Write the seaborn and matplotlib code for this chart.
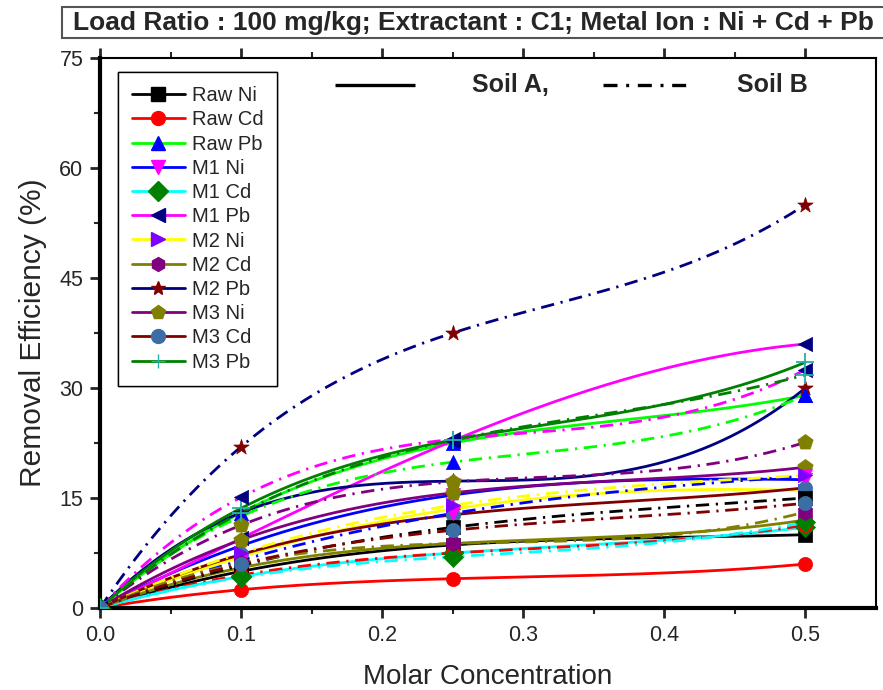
import numpy as np
import pandas as pd
import matplotlib
matplotlib.use("Agg")
import matplotlib.pyplot as plt
import seaborn as sns
from matplotlib.lines import Line2D
from matplotlib.patches import Rectangle

sns.set_style("white")
plt.rcParams['font.family'] = ['Liberation Sans', 'DejaVu Sans']

# ---------------- data ----------------
conc = [0.0, 0.1, 0.25, 0.5]
series_names = ["Raw Ni", "Raw Cd", "Raw Pb", "M1 Ni", "M1 Cd", "M1 Pb",
                "M2 Ni", "M2 Cd", "M2 Pb", "M3 Ni", "M3 Cd", "M3 Pb"]

soil_a = {
    "Raw Ni": [0, 5.0, 8.6, 10.0],
    "Raw Cd": [0, 2.5, 4.0, 6.0],
    "Raw Pb": [0, 13.0, 22.5, 29.0],
    "M1 Ni":  [0, 8.5, 15.4, 17.5],
    "M1 Cd":  [0, 4.3, 7.5, 11.0],
    "M1 Pb":  [0, 9.5, 22.8, 36.0],
    "M2 Ni":  [0, 7.0, 13.5, 16.0],
    "M2 Cd":  [0, 5.5, 8.8, 12.0],
    "M2 Pb":  [0, 13.0, 17.3, 30.0],
    "M3 Ni":  [0, 9.3, 15.7, 19.2],
    "M3 Cd":  [0, 7.3, 12.7, 16.4],
    "M3 Pb":  [0, 13.6, 22.9, 33.5],
}
soil_b = {
    "Raw Ni": [0, 5.8, 11.0, 15.0],
    "Raw Cd": [0, 4.5, 7.5, 11.3],
    "Raw Pb": [0, 12.5, 19.9, 29.0],
    "M1 Ni":  [0, 6.5, 12.9, 18.0],
    "M1 Cd":  [0, 4.2, 7.0, 11.7],
    "M1 Pb":  [0, 15.1, 23.0, 32.5],
    "M2 Ni":  [0, 7.5, 14.0, 18.1],
    "M2 Cd":  [0, 6.1, 8.8, 13.1],
    "M2 Pb":  [0, 22.0, 37.5, 55.0],
    "M3 Ni":  [0, 11.3, 17.2, 22.6],
    "M3 Cd":  [0, 6.0, 10.6, 14.3],
    "M3 Pb":  [0, 13.0, 22.9, 31.8],
}

line_colors = ["#000000", "#ff0000", "#00ff00", "#0000ff", "#00ffff", "#ff00ff",
               "#ffff00", "#808000", "#000080", "#800080", "#800000", "#008000"]
marker_colors = ["#000000", "#ff0000", "#0000ff", "#ff00ff", "#008000", "#000080",
                 "#8000ff", "#800080", "#800000", "#808000", "#3a6ea5", "#20b2aa"]
markers = ["s", "o", "^", "v", "D", "<", ">", "h", "*", "p", "o", "+"]

title = "Load Ratio : 100 mg/kg; Extractant : C1; Metal Ion : Ni + Cd + Pb"
soil_labels = ["Soil A,", "Soil B"]
xticks = [0.0, 0.1, 0.2, 0.3, 0.4, 0.5]
yticks = [0, 15, 30, 45, 60, 75]

# ---------------- figure ----------------
fig = plt.figure(figsize=(8.83, 6.9), dpi=100)
ax = fig.add_axes([0.1133, 0.1188, 0.8787, 0.7972])

dashdot = (0, (4.8, 2.4, 0.8, 2.4))
x_arr = np.array(conc)
xs = np.linspace(0, 0.5, 200)

for soil, ls in ((soil_a, "-"), (soil_b, dashdot)):
    for i, name in enumerate(series_names):
        coef = np.polyfit(x_arr, np.array(soil[name]), 3)
        ys = np.polyval(coef, xs)
        sns.lineplot(x=xs, y=ys, color=line_colors[i], linestyle=ls,
                     linewidth=2.0, ax=ax, zorder=2, legend=False)

for soil in (soil_a, soil_b):
    for i, name in enumerate(series_names):
        mk = markers[i]
        size = 135 if mk in ("*", "p", "h") else 105
        if mk == "+":
            ax.scatter(conc, soil[name], marker="+", s=170, color=marker_colors[i],
                       linewidths=1.3, zorder=3)
        else:
            sns.scatterplot(x=conc, y=soil[name], marker=mk, s=size,
                            color=marker_colors[i], edgecolor=marker_colors[i],
                            linewidth=0.5, ax=ax, zorder=3, legend=False)

ax.set_xlim(0, 0.55)
ax.set_ylim(0, 75)
ax.set_xticks(xticks)
ax.set_xticklabels([f"{v:.1f}" for v in xticks])
ax.set_yticks(yticks)
ax.set_xticks([0.05, 0.15, 0.25, 0.35, 0.45], minor=True)
ax.set_yticks([7.5, 22.5, 37.5, 52.5, 67.5], minor=True)
ax.tick_params(axis="both", which="major", direction="out", length=7, width=2,
               labelsize=15.5, pad=5, bottom=True, left=True)
ax.tick_params(axis="both", which="minor", direction="out", length=4.5, width=1.5,
               bottom=True, left=True)
ax.tick_params(axis="x", which="both", top=True, direction="out")
ax.tick_params(axis="x", which="major", length=7)
for s in ("left", "bottom"):
    ax.spines[s].set_linewidth(3)
    ax.spines[s].set_color("black")
for s in ("top", "right"):
    ax.spines[s].set_linewidth(1.5)
    ax.spines[s].set_color("black")

ax.set_xlabel("Molar Concentration", fontsize=20, labelpad=13)
ax.set_ylabel("Removal Efficiency (%)", fontsize=21.5, labelpad=9)

# series legend
handles = [Line2D([], [], color=line_colors[i], lw=2.0, marker=markers[i],
                  markersize=10, markerfacecolor=marker_colors[i],
                  markeredgecolor=marker_colors[i])
           for i in range(len(series_names))]
leg1 = ax.legend(handles, series_names, loc="upper left",
                 bbox_to_anchor=(0.0232, 0.9745), borderaxespad=0,
                 fontsize=14.5, frameon=True,
                 fancybox=False, edgecolor="black", framealpha=1,
                 handlelength=2.6, handletextpad=0.35, labelspacing=0.26,
                 borderpad=0.7)
leg1.get_frame().set_linewidth(1.0)
ax.add_artist(leg1)

# soil key (drawn in axes coordinates)
ax.plot([0.303, 0.406], [0.951, 0.951], transform=ax.transAxes, color="black",
        lw=2.4, solid_capstyle="butt", zorder=5)
ax.plot([0.648, 0.760], [0.951, 0.951], transform=ax.transAxes, color="black",
        lw=2.4, linestyle=(0, (4.2, 2.6, 0.9, 2.6)), zorder=5)
ax.text(0.479, 0.951, soil_labels[0], transform=ax.transAxes, fontsize=18,
        fontweight="bold", ha="left", va="center")
ax.text(0.821, 0.951, soil_labels[1], transform=ax.transAxes, fontsize=18,
        fontweight="bold", ha="left", va="center")

# title box
fig.patches.append(Rectangle((62 / 883, 652 / 690), 0.95, 31 / 690,
                             transform=fig.transFigure, fc="white",
                             ec="#555555", lw=1.5, zorder=0))
fig.text(0.5357, 0.966, title, fontsize=19, fontweight="bold", ha="center",
         va="center")

fig.savefig("out.png", dpi=100)
